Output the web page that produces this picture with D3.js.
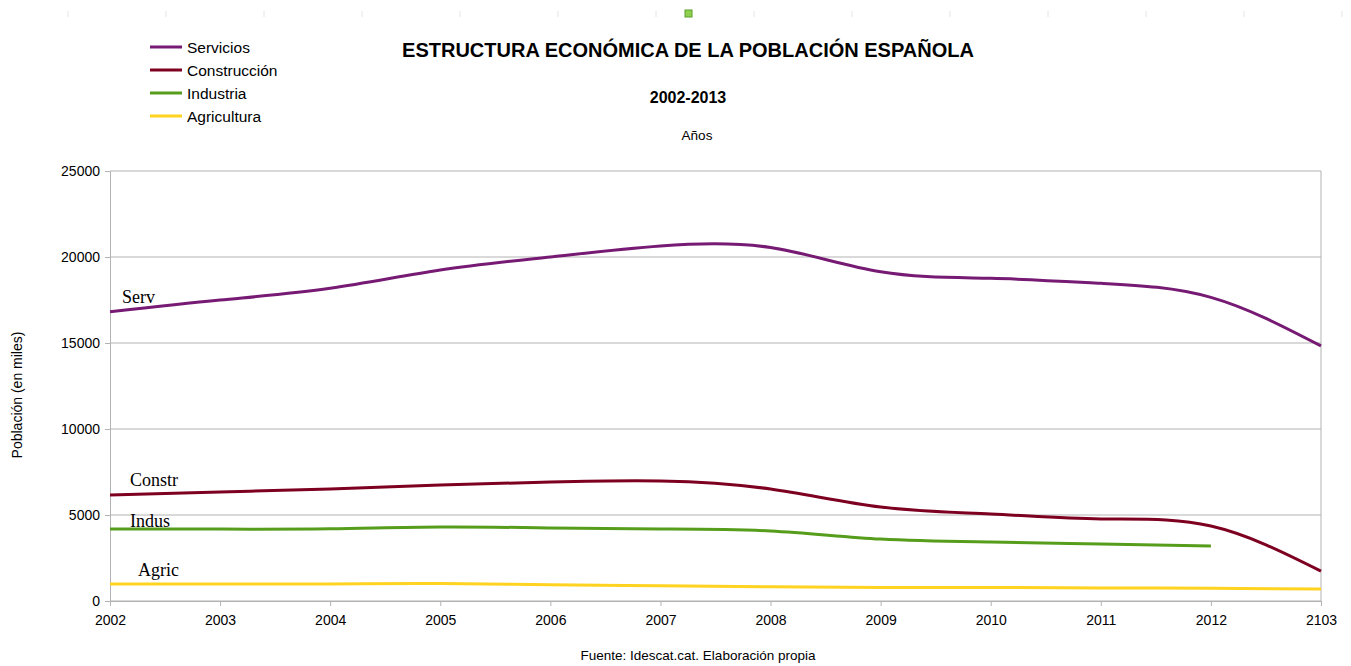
<!DOCTYPE html>
<html>
<head>
<meta charset="utf-8">
<script src="https://cdn.jsdelivr.net/npm/d3@7"></script>
<style>
  body { margin: 0; background: #fff; }
  text { font-family: "Liberation Sans", Arial, sans-serif; fill: #000; }
  .lbl { font-family: "Liberation Serif", "Times New Roman", serif; font-size: 18px; }
</style>
</head>
<body>
<div id="chart"></div>
<script>
// ......................
// data (miles de personas)
var years = ["2002", "2003", "2004", "2005", "2006", "2007", "2008", "2009", "2010", "2011", "2012", "2103"];
var servicios    = [16820, 17500, 18180, 19240, 20000, 20640, 20550, 19140, 18760, 18470, 17650, 14830];
var construccion = [6160, 6340, 6510, 6740, 6920, 6980, 6510, 5460, 5060, 4770, 4360, 1740];
var industria    = [4190, 4180, 4200, 4300, 4250, 4190, 4070, 3600, 3430, 3310, 3200, null];
var agricultura  = [990, 990, 995, 1020, 940, 890, 830, 790, 790, 760, 740, 700];
var yTicks = [0, 5000, 10000, 15000, 20000, 25000];

var seriesNames = ["Servicios", "Construcción", "Industria", "Agricultura"];
var shortNames = ["Serv", "Constr", "Indus", "Agric"];
var colors = ["#761a74", "#7e0021", "#579d1c", "#ffd320"];
var allSeries = [servicios, construccion, industria, agricultura];

// ......................
// svg area
var svgWidth = 1351;
var svgHeight = 666;
var plot = { left: 110, right: 1321, top: 171, bottom: 601 };

var svg = d3.select("#chart")
    .append("svg")
    .attr("width", svgWidth)
    .attr("height", svgHeight);

svg.append("rect")
    .attr("width", svgWidth)
    .attr("height", svgHeight)
    .attr("fill", "#fff");

// faint handle marks along the top
svg.append("g")
    .selectAll("line")
    .data(d3.range(68, 1351, 98))
    .enter()
    .append("line")
    .attr("x1", d => d).attr("x2", d => d)
    .attr("y1", 11).attr("y2", 17)
    .attr("stroke", "#e4e4e4");

svg.append("rect")
    .attr("x", 685).attr("y", 10)
    .attr("width", 7).attr("height", 7)
    .attr("fill", "#8fd14f")
    .attr("stroke", "#5a9e2a");

// ......................
// scales
var xScale = d3.scalePoint()
    .domain(years)
    .range([plot.left, plot.right]);

var yScale = d3.scaleLinear()
    .domain([0, 25000])
    .range([plot.bottom, plot.top]);

// horizontal gridlines
svg.append("g")
    .selectAll("line")
    .data(yTicks)
    .enter()
    .append("line")
    .attr("x1", plot.left).attr("x2", plot.right)
    .attr("y1", d => yScale(d)).attr("y2", d => yScale(d))
    .attr("stroke", "#b3b3b3");

// right border
svg.append("line")
    .attr("x1", plot.right).attr("x2", plot.right)
    .attr("y1", plot.top).attr("y2", plot.bottom)
    .attr("stroke", "#b3b3b3");

// axes
var yAxis = d3.axisLeft(yScale).tickValues(yTicks).tickFormat(d3.format("d")).tickSize(5).tickPadding(5);
var xAxis = d3.axisBottom(xScale).tickSize(5).tickPadding(9);

var yG = svg.append("g")
    .attr("transform", `translate(${plot.left}, 0)`)
    .call(yAxis);

var xG = svg.append("g")
    .attr("transform", `translate(0, ${plot.bottom})`)
    .call(xAxis);

[yG, xG].forEach(g => {
    g.select(".domain").attr("stroke", "#b3b3b3");
    g.selectAll(".tick line").attr("stroke", "#b3b3b3");
    g.selectAll(".tick text")
        .attr("font-family", "Liberation Sans, Arial, sans-serif")
        .attr("font-size", 14)
        .attr("fill", "#222");
});

// ......................
// lines
var line = d3.line()
    .x(d => xScale(d.year))
    .y(d => yScale(d.v))
    .curve(d3.curveNatural);

allSeries.forEach((vals, i) => {
    var pts = years.map((y, j) => ({ year: y, v: vals[j] })).filter(d => d.v !== null);
    svg.append("path")
        .datum(pts)
        .attr("fill", "none")
        .attr("stroke", colors[i])
        .attr("stroke-width", 3)
        .attr("d", line);
});

// labels on the lines
var labelPos = [
    { dx: 12, dy: -9, s: 0 },
    { dx: 20, dy: -9, s: 1 },
    { dx: 20, dy: -2, s: 2 },
    { dx: 28, dy: -8, s: 3 }
];
labelPos.forEach(p => {
    svg.append("text")
        .attr("class", "lbl")
        .attr("x", xScale(years[0]) + p.dx)
        .attr("y", yScale(allSeries[p.s][0]) + p.dy)
        .attr("fill", "#222")
        .text(shortNames[p.s]);
});

// ......................
// legend
var legend = svg.append("g").attr("transform", "translate(150, 47)");
seriesNames.forEach((name, i) => {
    legend.append("line")
        .attr("x1", 0).attr("x2", 32)
        .attr("y1", i * 23).attr("y2", i * 23)
        .attr("stroke", colors[i])
        .attr("stroke-width", 3);
    legend.append("text")
        .attr("x", 37)
        .attr("y", i * 23 + 5.5)
        .attr("font-size", 15.5)
        .attr("fill", "#222")
        .text(name);
});

// ......................
// titles
svg.append("text")
    .attr("x", 688).attr("y", 57)
    .attr("text-anchor", "middle")
    .attr("font-size", 20)
    .attr("font-weight", "bold")
    .attr("fill", "#1a1a1a")
    .text("ESTRUCTURA ECONÓMICA DE LA POBLACIÓN ESPAÑOLA");

svg.append("text")
    .attr("x", 688).attr("y", 103)
    .attr("text-anchor", "middle")
    .attr("font-size", 16)
    .attr("font-weight", "bold")
    .attr("fill", "#1a1a1a")
    .text("2002-2013");

svg.append("text")
    .attr("x", 697).attr("y", 140)
    .attr("text-anchor", "middle")
    .attr("font-size", 13.5)
    .attr("fill", "#222")
    .text("Años");

svg.append("text")
    .attr("transform", "translate(22, 395) rotate(-90)")
    .attr("text-anchor", "middle")
    .attr("font-size", 14)
    .attr("fill", "#222")
    .text("Población (en miles)");

svg.append("text")
    .attr("x", 698).attr("y", 660)
    .attr("text-anchor", "middle")
    .attr("font-size", 13.5)
    .attr("fill", "#222")
    .text("Fuente: Idescat.cat. Elaboración propia");
</script>
</body>
</html>
